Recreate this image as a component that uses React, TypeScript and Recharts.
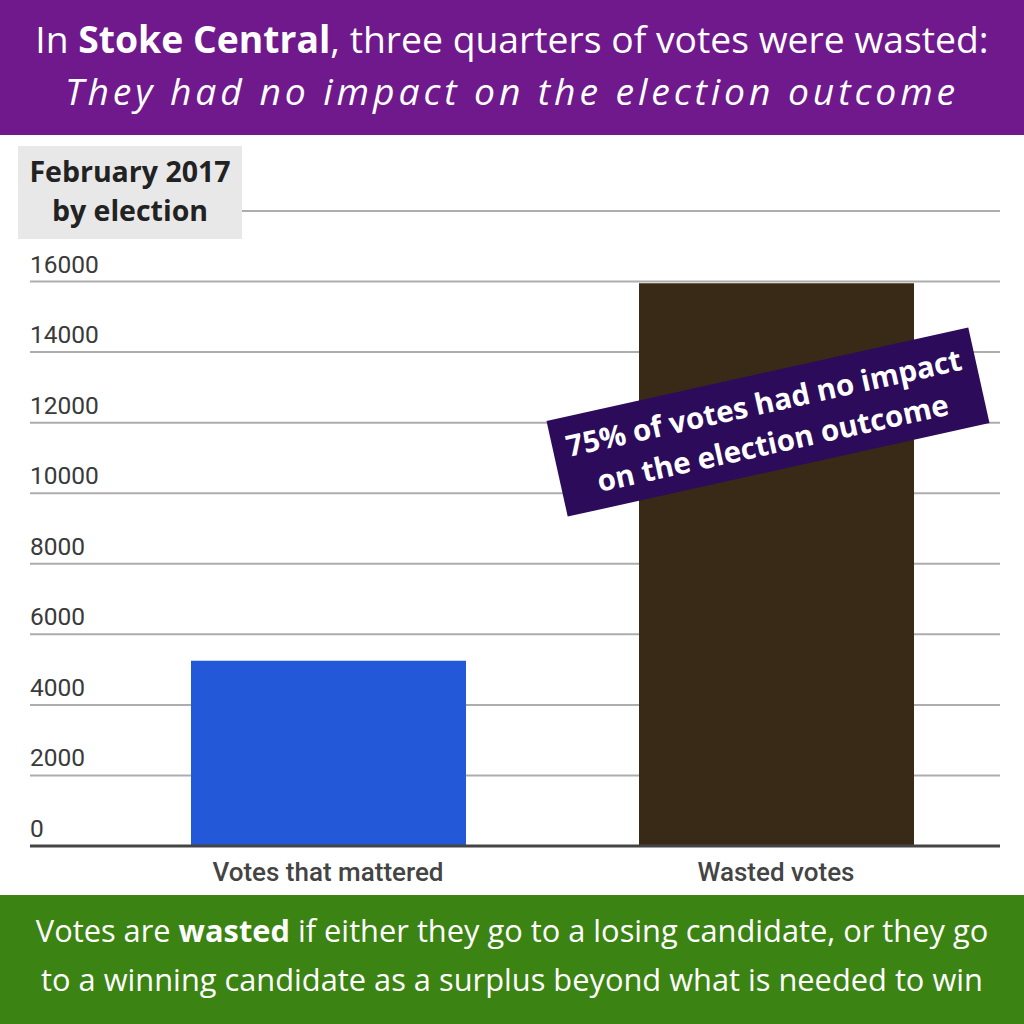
import { BarChart, Bar, XAxis, YAxis, CartesianGrid, Cell } from 'recharts'

const categories = ['Votes that mattered', 'Wasted votes']
const votes = [5250, 15950]
const barColors = ['#2358d8', '#382a16']
const yTicks = [0, 2000, 4000, 6000, 8000, 10000, 12000, 14000, 16000, 18000]

const chartData = categories.map((name, i) => ({ name, votes: votes[i] }))

const renderYTick = (props: any) => {
  const { y, payload, index } = props
  // 18000 is hidden under the label box in the original
  if (payload.value === 18000) return <g key={`yt-${index}`} />
  return (
    <text key={`yt-${index}`} x={30} y={y - 9} textAnchor="start" fontFamily="Roboto" fontSize={24.5} fill="#3a3a3a">
      {payload.value}
    </text>
  )
}

const renderXTick = (props: any) => {
  const { x, y, payload, index } = props
  return (
    <text key={`xt-${index}`} x={x} y={y + 27} textAnchor="middle" fontFamily="Roboto" fontWeight={500} fontSize={26} fill="#444">
      {payload.value}
    </text>
  )
}

export default function App() {
  return (
    <div style={{ position: 'absolute', left: 0, top: 0, width: 1024, height: 1024, background: '#fff', overflow: 'hidden', fontFamily: '"Open Sans", sans-serif' }}>
      {/* header band */}
      <div style={{ position: 'absolute', left: 0, top: 0, width: 1024, height: 135, background: '#6f198d', color: '#fff', textAlign: 'center', boxSizing: 'border-box', paddingTop: 13, fontSize: 37.3, lineHeight: '52px', whiteSpace: 'nowrap' }}>
        <div>In <b>Stoke Central</b>, three quarters of votes were wasted:</div>
        <div style={{ fontStyle: 'italic', letterSpacing: 3.9 }}>They had no impact on the election outcome</div>
      </div>

      <div style={{ position: 'absolute', left: 0, top: 0 }}>
        <BarChart width={1024} height={1024} data={chartData} margin={{ top: 211, right: 24, bottom: 138, left: 29 }} barSize={275}>
          <CartesianGrid vertical={false} stroke="#adadad" strokeWidth={2} />
          <YAxis width={1} domain={[0, 18000]} ticks={yTicks} axisLine={false} tickLine={false} tick={renderYTick} />
          <XAxis dataKey="name" height={40} padding={{ left: 74, right: 0 }} tickLine={false} axisLine={{ stroke: '#444', strokeWidth: 3 }} tick={renderXTick} />
          <Bar dataKey="votes" isAnimationActive={false}>
            {chartData.map((d, i) => (
              <Cell key={d.name} fill={barColors[i]} />
            ))}
          </Bar>
        </BarChart>
      </div>

      {/* label box */}
      <div style={{ position: 'absolute', left: 18, top: 146, width: 224, height: 93, background: '#e8e8e8', boxSizing: 'border-box', paddingTop: 6, textAlign: 'center', fontWeight: 700, fontSize: 28.5, lineHeight: '39px', color: '#222', whiteSpace: 'nowrap' }}>
        February 2017<br />by election
      </div>

      {/* rotated annotation */}
      <div style={{ position: 'absolute', left: 768 - 216, top: 422 - 49, width: 432, height: 98, background: '#2d0b5b', transform: 'rotate(-12.5deg)', color: '#fff', fontWeight: 700, fontSize: 29.5, lineHeight: '41px', textAlign: 'center', boxSizing: 'border-box', paddingTop: 8, whiteSpace: 'nowrap' }}>
        75% of votes had no impact<br />on the election outcome
      </div>

      {/* footer band */}
      <div style={{ position: 'absolute', left: 0, top: 895, width: 1024, height: 129, background: '#3b8312', color: '#fff', textAlign: 'center', boxSizing: 'border-box', paddingTop: 11, fontSize: 30.8, lineHeight: '49px', whiteSpace: 'nowrap' }}>
        <div>Votes are <b>wasted</b> if either they go to a losing candidate, or they go</div>
        <div>to a winning candidate as a surplus beyond what is needed to win</div>
      </div>
    </div>
  )
}
